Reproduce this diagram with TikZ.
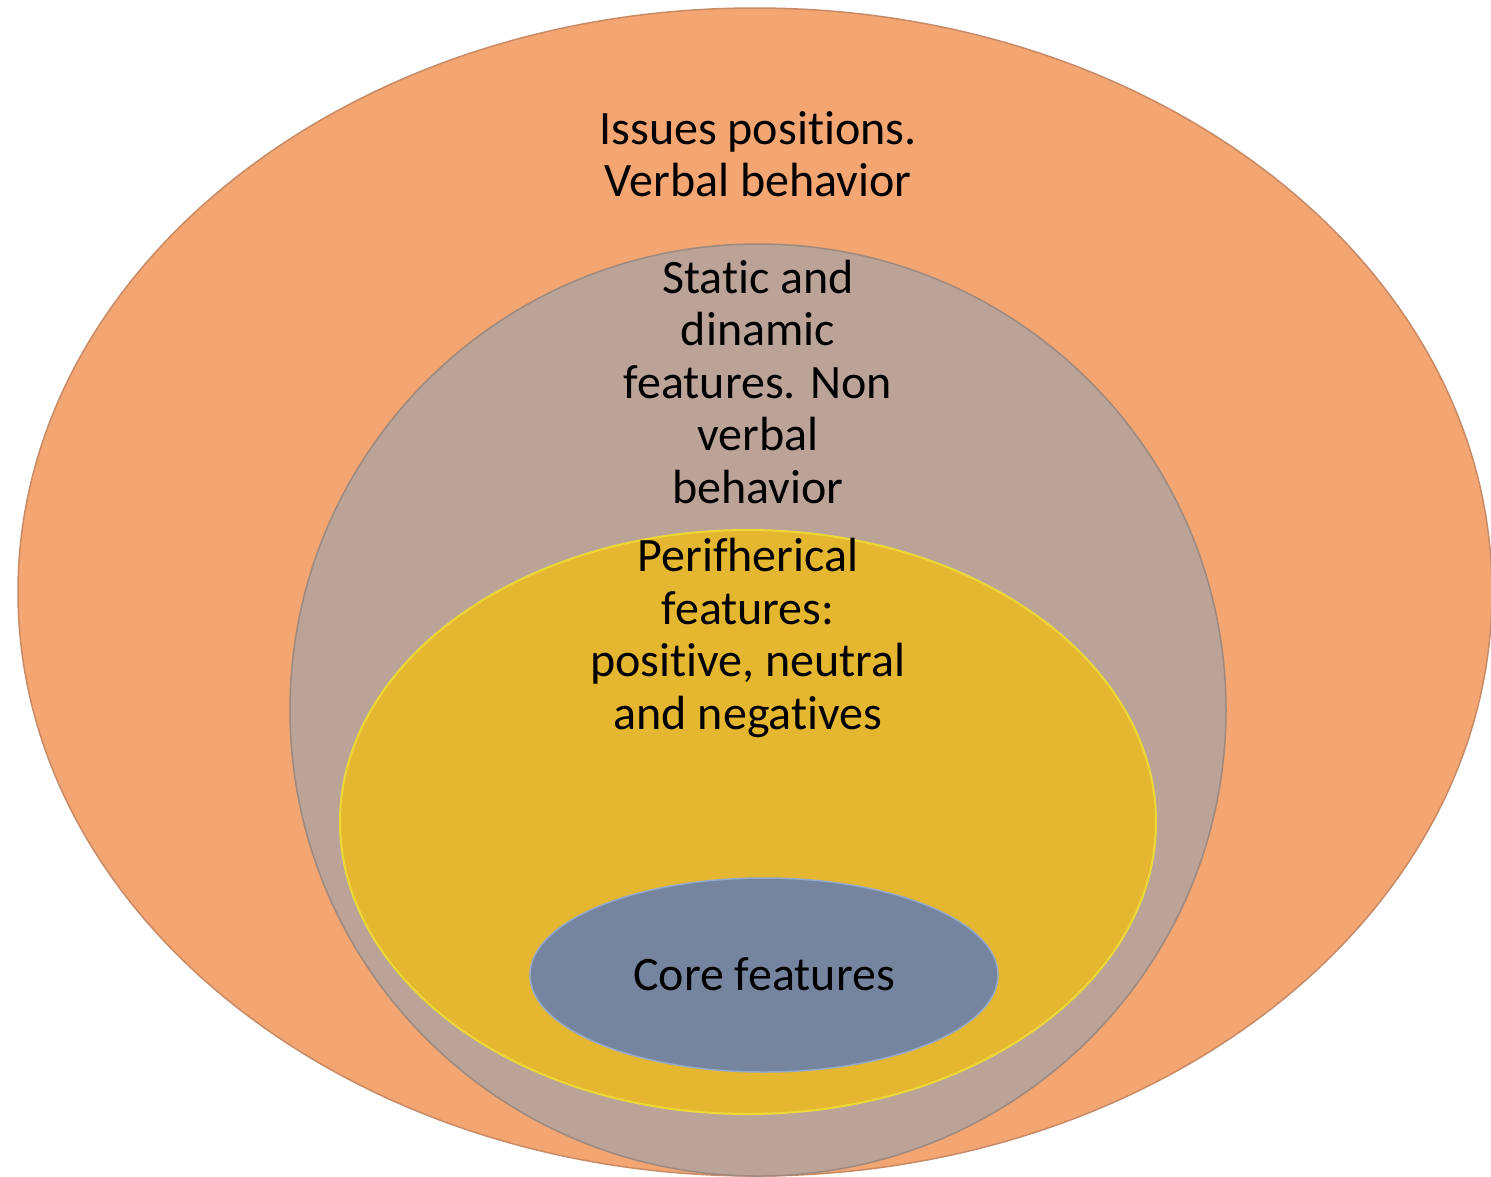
\documentclass[tikz,border=0pt]{standalone}
\usepackage{fontspec}
\setmainfont{Carlito}[Ligatures=NoCommon]
\usetikzlibrary{shapes.geometric}
\definecolor{orangeF}{HTML}{F3A572}
\definecolor{orangeD}{HTML}{C98A66}
\definecolor{grayF}{HTML}{BBA398}
\definecolor{grayD}{HTML}{9C8A80}
\definecolor{yellowF}{HTML}{E5B731}
\definecolor{yellowD}{HTML}{EDD936}
\definecolor{blueF}{HTML}{7585A0}
\definecolor{blueD}{HTML}{93AACB}
\tikzset{
  ring/.style={ellipse, inner sep=0pt, line width=1.5pt},
  lbl/.style={align=center, font=\fontsize{48}{52.5}\selectfont, text=black, inner sep=0pt}
}
\begin{document}
\begin{tikzpicture}[x=1pt,y=-1pt]
\useasboundingbox (0,0) rectangle (1491,1176);
\begin{scope}
\clip (0,0) rectangle (1491,1176);
\node[ring, fill=orangeF, draw=orangeD, minimum width=1474pt, minimum height=1168pt] (outer) at (755,592) {};
\node[ring, fill=grayF, draw=grayD, minimum width=936pt, minimum height=932pt] (mid) at (758,710) {};
\node[ring, fill=yellowF, draw=yellowD, line width=2pt, minimum width=816pt, minimum height=584pt] (per) at (748,822) {};
\node[ring, fill=blueF, draw=blueD, minimum width=468pt, minimum height=194pt] (core) at (764,975) {};
\end{scope}
\node[lbl] (t1) at (758,154) {Issues positions.\\Verbal behavior};
\node[lbl] (t2) at (758,382) {Static and\\dinamic\\features. Non\\verbal\\behavior};
\node[lbl] (t3) at (748,638) {Perifherical\\features:\\positive, neutral\\and negatives};
\node[lbl] (t4) at (764,974) {Core features};
\end{tikzpicture}
\end{document}
